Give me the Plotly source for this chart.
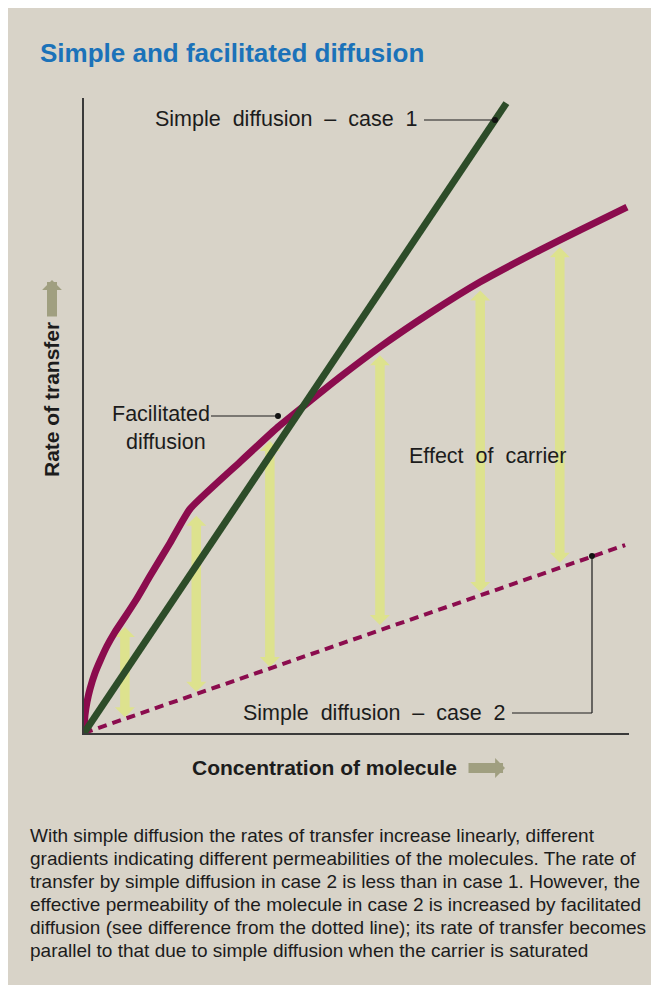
import plotly.graph_objects as go

# ---------------- data ----------------
conc_facilitated = [0, 0.018, 0.055, 0.110, 0.202, 0.294, 0.422, 0.569, 0.752, 0.954,
                    1.211, 1.578, 1.945, 2.862, 3.560, 4.055, 4.697, 5.431, 6.349,
                    7.266, 8.367, 9.101, 9.963]
rate_facilitated = [0, 0.283, 0.488, 0.693, 0.945, 1.134, 1.370, 1.591, 1.827, 2.094,
                    2.472, 2.992, 3.528, 4.268, 4.819, 5.165, 5.606, 6.079, 6.614,
                    7.102, 7.606, 7.921, 8.283]
conc_case1 = [0, 7.75]
rate_case1 = [0, 9.92]
conc_case2 = [0, 9.93]
rate_case2 = [0, 2.96]
carrier_x = [0.75, 2.06, 3.41, 5.43, 7.27, 8.73]
carrier_top = [1.67, 3.42, 4.60, 5.95, 6.97, 7.65]
carrier_bottom = [0.25, 0.65, 1.04, 1.70, 2.22, 2.68]

title_text = "Simple and facilitated diffusion"
y_label = "Rate of transfer"
x_label = "Concentration of molecule"
caption_lines = [
    "With simple diffusion the rates of transfer increase linearly, different",
    "gradients indicating different permeabilities of the molecules. The rate of",
    "transfer by simple diffusion in case 2 is less than in case 1. However, the",
    "effective permeability of the molecule in case 2 is increased by facilitated",
    "diffusion (see difference from the dotted line); its rate of transfer becomes",
    "parallel to that due to simple diffusion when the carrier is saturated",
]

# ---------------- geometry ----------------
OFF = 8                      # page offset of the figure (body margin)
W, H = 659 - OFF, 985 - OFF
PL, PT, PR, PB = 84, 98, 629, 733   # plot area in page pixels
L, T = PL - OFF, PT - OFF
R = W - (PR - OFF)
B = H - (PB - OFF)
PW, PH = PR - PL, PB - PT
XR, YR = 10.0, 10.0
SX, SY = PW / XR, PH / YR  # px per data unit


def px2x(px):
    return (px - PL) / SX


def py2y(py):
    return (PB - py) / SY


def ppx(px):
    return (px - PL) / PW


def ppy(py):
    return (PB - py) / PH


FONT = "Liberation Sans, Arial, Helvetica, sans-serif"
BG = "#d8d3c8"
YELLOW = "#dde28e"
MAGENTA = "#8b0c4e"
GREEN = "#2d4c29"
INK = "#1c1c1c"

fig = go.Figure()

# yellow double arrows (effect of carrier) - shafts and heads
head_half_w = 10 / SX
head_len = 10 / SY
sx, sy = [], []
for x, t, b in zip(carrier_x, carrier_top, carrier_bottom):
    sx += [x, x, None]
    sy += [b + head_len * 0.5, t - head_len * 0.5, None]
fig.add_trace(go.Scatter(x=sx, y=sy, mode="lines",
                         line=dict(color=YELLOW, width=9.5),
                         hoverinfo="skip", showlegend=False))
hx, hy = [], []
for x, t, b in zip(carrier_x, carrier_top, carrier_bottom):
    hx += [x - head_half_w, x + head_half_w, x, x - head_half_w, None]
    hy += [t - head_len, t - head_len, t, t - head_len, None]
    hx += [x - head_half_w, x + head_half_w, x, x - head_half_w, None]
    hy += [b + head_len, b + head_len, b, b + head_len, None]
fig.add_trace(go.Scatter(x=hx, y=hy, mode="lines", fill="toself",
                         fillcolor=YELLOW, line=dict(color=YELLOW, width=0),
                         hoverinfo="skip", showlegend=False))

# simple diffusion case 2 (dotted)
fig.add_trace(go.Scatter(x=conc_case2, y=rate_case2, mode="lines",
                         line=dict(color=MAGENTA, width=4, dash="9px,6px"),
                         hoverinfo="skip", showlegend=False))
# facilitated diffusion
fig.add_trace(go.Scatter(x=conc_facilitated, y=rate_facilitated, mode="lines",
                         line=dict(color=MAGENTA, width=7, shape="spline", smoothing=0.5),
                         hoverinfo="skip", showlegend=False))
# simple diffusion case 1
fig.add_trace(go.Scatter(x=conc_case1, y=rate_case1, mode="lines",
                         line=dict(color=GREEN, width=7),
                         hoverinfo="skip", showlegend=False))

# leader lines
lead = dict(color=INK, width=1.2)
shapes = [
    dict(type="line", x0=px2x(424), x1=px2x(495), y0=py2y(120), y1=py2y(120), line=lead),
    dict(type="line", x0=px2x(211), x1=px2x(278), y0=py2y(416), y1=py2y(416), line=lead),
    dict(type="line", x0=px2x(512), x1=px2x(592), y0=py2y(713), y1=py2y(713), line=lead),
    dict(type="line", x0=px2x(592), x1=px2x(592), y0=py2y(713), y1=py2y(556), line=lead),
]
fig.add_trace(go.Scatter(x=[px2x(495), px2x(278), px2x(592)],
                         y=[py2y(120), py2y(416), py2y(556)], mode="markers",
                         marker=dict(color="#111111", size=6),
                         hoverinfo="skip", showlegend=False))

ann = []
ann.append(dict(xref="paper", yref="paper", x=ppx(38), y=ppy(53), xanchor="left", yanchor="middle",
                text="<b>" + title_text + "</b>", showarrow=False,
                font=dict(family=FONT, size=26, color="#1b72b9")))
ann.append(dict(xref="paper", yref="paper", x=ppx(51), y=ppy(400), xanchor="center", yanchor="middle",
                text="<b>" + y_label + "</b>", textangle=-90, showarrow=False,
                font=dict(family=FONT, size=21, color=INK)))
ann.append(dict(xref="paper", yref="paper", x=ppx(324), y=ppy(768), xanchor="center", yanchor="middle",
                text="<b>" + x_label + "</b>", showarrow=False,
                font=dict(family=FONT, size=21, color=INK)))
# axis arrows
ann.append(dict(xref="paper", yref="paper", x=ppx(52), y=ppy(280), ax=0, ay=38, text="",
                showarrow=True, arrowhead=1, arrowwidth=10, arrowsize=0.33,
                arrowcolor="#a09f80", standoff=0))
ann.append(dict(xref="paper", yref="paper", x=ppx(505), y=ppy(768), ax=-38, ay=0, text="",
                showarrow=True, arrowhead=1, arrowwidth=10, arrowsize=0.33,
                arrowcolor="#a09f80", standoff=0))
lab = dict(family=FONT, size=21.5, color=INK)
ann.append(dict(x=px2x(420), y=py2y(119), xanchor="right", yanchor="middle",
                text="Simple\u00a0 diffusion\u00a0 –\u00a0 case\u00a0 1", showarrow=False, font=lab))
ann.append(dict(x=px2x(161), y=py2y(414), xanchor="center", yanchor="middle",
                text="Facilitated", showarrow=False, font=lab))
ann.append(dict(x=px2x(166), y=py2y(442), xanchor="center", yanchor="middle",
                text="diffusion", showarrow=False, font=lab))
ann.append(dict(x=px2x(407), y=py2y(456), xanchor="left", yanchor="middle",
                text="Effect\u00a0 of\u00a0 carrier", showarrow=False, font=lab))
ann.append(dict(x=px2x(508), y=py2y(713), xanchor="right", yanchor="middle",
                text="Simple\u00a0 diffusion\u00a0 –\u00a0 case\u00a0 2", showarrow=False, font=lab))
for i, line in enumerate(caption_lines):
    ann.append(dict(xref="paper", yref="paper", x=ppx(28), y=ppy(835 + 23 * i),
                    xanchor="left", yanchor="middle", text=line, showarrow=False,
                    font=dict(family=FONT, size=19, color=INK)))

axis_common = dict(range=[0, 10], showline=True, linecolor="#3a3a3a", linewidth=1.5,
                   showgrid=False, zeroline=False, showticklabels=False, ticks="",
                   fixedrange=True)
fig.update_layout(
    width=W, height=H, autosize=False,
    margin=dict(l=L, r=R, t=T, b=B, pad=0),
    paper_bgcolor=BG, plot_bgcolor=BG,
    xaxis=axis_common, yaxis=axis_common,
    shapes=shapes, annotations=ann, showlegend=False,
)
fig.write_html("out.html")
